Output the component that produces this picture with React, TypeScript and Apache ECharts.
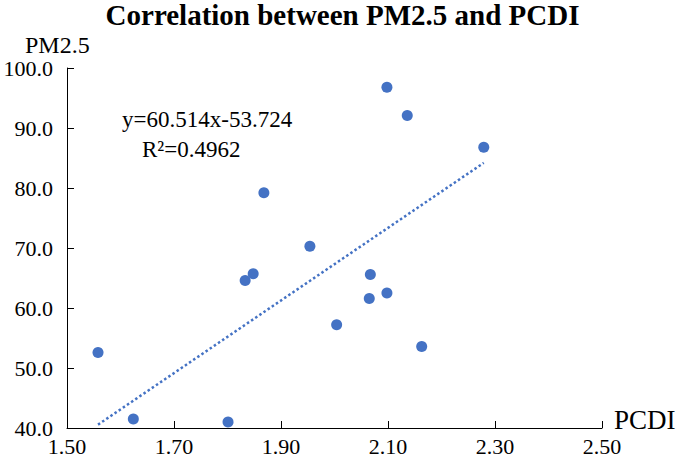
import React, { useEffect, useRef } from "react";
import * as echarts from "echarts";

const titleText = "Correlation between PM2.5 and PCDI";
const xName = "PCDI";
const yName = "PM2.5";
const equationText = "y=60.514x-53.724";
const r2Text = "R²=0.4962";

// PCDI values
const pcdi = [1.558, 1.624, 1.801, 2.004, 2.163, 2.098, 2.065, 2.067, 2.098, 2.136, 2.279, 1.868, 1.954, 1.848, 1.833];
// PM2.5 values
const pm25 = [52.6, 41.5, 41.0, 57.2, 53.6, 62.5, 61.6, 65.6, 96.8, 92.1, 86.8, 79.2, 70.3, 65.7, 64.6];
// linear trendline end points (y = 60.514x - 53.724)
const trendLine = [
  [1.558, 40.56],
  [2.279, 84.19],
];

const xTicks = { min: 1.5, max: 2.5, interval: 0.2 };
const yTicks = { min: 40, max: 100, interval: 10 };

const BLUE = "#4472C4";
const FONT = "'Liberation Serif', 'Times New Roman', serif";

export default function App() {
  const ref = useRef<HTMLDivElement>(null);
  useEffect(() => {
    if (!ref.current) return;
    const chart = echarts.init(ref.current, undefined, { renderer: "svg" });
    const points = pcdi.map((x, i) => [x, pm25[i]]);
    chart.setOption({
      animation: false,
      backgroundColor: "#ffffff",
      textStyle: { fontFamily: FONT, color: "#000" },
      title: {
        text: titleText,
        left: "center",
        top: 0,
        padding: 0,
        textStyle: { fontFamily: FONT, fontWeight: "bold", fontSize: 29, color: "#000" },
      },
      grid: { left: 67, right: 83, top: 68, bottom: 30, containLabel: false },
      xAxis: {
        type: "value",
        min: xTicks.min,
        max: xTicks.max,
        interval: xTicks.interval,
        splitLine: { show: false },
        axisLine: { show: true, lineStyle: { color: "#000", width: 1 } },
        axisTick: { show: true, inside: true, length: 7, lineStyle: { color: "#000" } },
        axisLabel: {
          fontFamily: FONT,
          fontSize: 22,
          color: "#000",
          margin: 7,
          formatter: (v: number) => v.toFixed(2),
        },
      },
      yAxis: {
        type: "value",
        min: yTicks.min,
        max: yTicks.max,
        interval: yTicks.interval,
        splitLine: { show: false },
        axisLine: { show: true, lineStyle: { color: "#000", width: 1 } },
        axisTick: { show: true, inside: true, length: 7, lineStyle: { color: "#000" } },
        axisLabel: {
          fontFamily: FONT,
          fontSize: 22,
          color: "#000",
          margin: 14,
          formatter: (v: number) => v.toFixed(1),
        },
      },
      graphic: [
        {
          type: "text",
          left: 25,
          top: 33,
          style: { text: yName, fontFamily: FONT, fontSize: 24, fill: "#000" },
        },
        {
          type: "text",
          left: 614,
          top: 406,
          style: { text: xName, fontFamily: FONT, fontSize: 27, fill: "#000" },
        },
        {
          type: "text",
          left: 122,
          top: 108,
          style: { text: equationText, fontFamily: FONT, fontSize: 23, fill: "#000" },
        },
        {
          type: "text",
          left: 142,
          top: 138,
          style: { text: r2Text, fontFamily: FONT, fontSize: 23, fill: "#000" },
        },
      ],
      series: [
        {
          type: "line",
          data: trendLine,
          symbol: "none",
          lineStyle: { color: BLUE, width: 2.5, type: [2.5, 2.5] },
          silent: true,
          z: 1,
        },
        {
          type: "scatter",
          data: points,
          symbol: "circle",
          symbolSize: 11,
          itemStyle: { color: BLUE, opacity: 1 },
          z: 2,
        },
      ],
    });
    return () => chart.dispose();
  }, []);
  return (
    <div
      ref={ref}
      style={{ position: "fixed", left: 0, top: 0, width: 685, height: 458 }}
    />
  );
}
